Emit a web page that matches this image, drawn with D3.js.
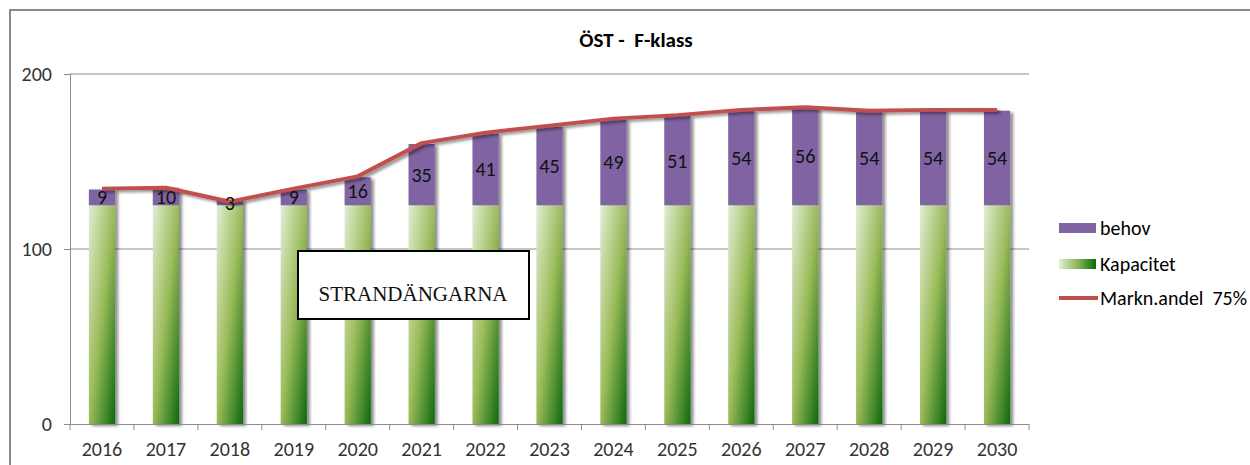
<!DOCTYPE html>
<html>
<head>
<meta charset="utf-8">
<script src="https://cdn.jsdelivr.net/npm/d3@7"></script>
<style>
  html, body { margin: 0; padding: 0; background: #fff; }
  svg { display: block; font-family: Carlito, Lato, "Open Sans", sans-serif; }
  text { white-space: pre; }
</style>
</head>
<body>
<div id="chart"></div>
<script>
const years = ["2016", "2017", "2018", "2019", "2020", "2021", "2022", "2023", "2024", "2025", "2026", "2027", "2028", "2029", "2030"];
const kapacitet = [125, 125, 125, 125, 125, 125, 125, 125, 125, 125, 125, 125, 125, 125, 125];
const behov = [9, 10, 3, 9, 16, 35, 41, 45, 49, 51, 54, 56, 54, 54, 54];
const marknandel = [134.5, 135, 127, 134.5, 141.5, 160.5, 166.5, 170.5, 174.5, 176.5, 179.5, 181, 179, 179.5, 179.5];
const yTicks = [0, 100, 200];
const title = "ÖST -  F-klass";
const note = "STRANDÄNGARNA";
const legendLabels = ["behov", "Kapacitet", "Markn.andel  75%"];

const W = 1250, H = 465;
const plot = { left: 70, right: 1029, top: 74, bottom: 424 };
const fontFam = "Carlito, Lato, 'Open Sans', sans-serif";

const svg = d3.select("#chart").append("svg")
  .attr("width", W)
  .attr("height", H);

const defs = svg.append("defs");
const grad = defs.append("linearGradient")
  .attr("id", "green")
  .attr("x1", 0).attr("y1", 0).attr("x2", 1).attr("y2", 1);
grad.append("stop").attr("offset", 0).attr("stop-color", "#e0eed4");
grad.append("stop").attr("offset", 0.5).attr("stop-color", "#9bbb59");
grad.append("stop").attr("offset", 1).attr("stop-color", "#0a6a0e");

const legGrad = defs.append("linearGradient")
  .attr("id", "greenLeg")
  .attr("x1", 0).attr("y1", 0).attr("x2", 1).attr("y2", 0);
legGrad.append("stop").attr("offset", 0).attr("stop-color", "#e0eed4");
legGrad.append("stop").attr("offset", 0.5).attr("stop-color", "#8fb556");
legGrad.append("stop").attr("offset", 1).attr("stop-color", "#0a6a0e");

const shadow = defs.append("filter")
  .attr("id", "shadow")
  .attr("x", "-50%").attr("y", "-10%").attr("width", "200%").attr("height", "120%");
shadow.append("feDropShadow")
  .attr("dx", 3).attr("dy", 2).attr("stdDeviation", 1.8)
  .attr("flood-color", "#000").attr("flood-opacity", 0.45);

// outer frame
svg.append("rect")
  .attr("x", 10).attr("y", 10)
  .attr("width", W).attr("height", H)
  .attr("fill", "none")
  .attr("stroke", "#898989")
  .attr("stroke-width", 2);

svg.append("text")
  .attr("x", 636).attr("y", 47)
  .attr("text-anchor", "middle")
  .attr("font-size", 21)
  .attr("font-weight", "bold")
  .attr("fill", "#000")
  .text(title);

const x = d3.scaleBand()
  .domain(years)
  .range([plot.left, plot.right])
  .paddingInner(0.59)
  .paddingOuter(0.295);

const y = d3.scaleLinear()
  .domain([0, 200])
  .range([plot.bottom, plot.top]);

// gridlines
svg.append("g")
  .selectAll("line")
  .data(yTicks.filter(d => d > 0))
  .join("line")
  .attr("x1", plot.left).attr("x2", plot.right)
  .attr("y1", d => y(d)).attr("y2", d => y(d))
  .attr("stroke", "#8c8c8c")
  .attr("stroke-width", 1);

// y axis
const yAxis = svg.append("g")
  .attr("transform", `translate(${plot.left},0)`)
  .call(d3.axisLeft(y).tickValues(yTicks).tickSize(6).tickPadding(12));
yAxis.select(".domain").attr("stroke", "#8c8c8c");
yAxis.selectAll(".tick line").attr("stroke", "#8c8c8c");
yAxis.selectAll("text")
  .attr("font-size", 20)
  .attr("fill", "#333")
  .attr("font-family", fontFam);

// bars
const rows = years.map((yr, i) => ({ year: yr, kap: kapacitet[i], beh: behov[i] }));

const barG = svg.append("g").attr("filter", "url(#shadow)");
barG.selectAll("rect.kap")
  .data(rows)
  .join("rect")
  .attr("class", "kap")
  .attr("x", d => x(d.year))
  .attr("width", x.bandwidth())
  .attr("y", d => y(d.kap))
  .attr("height", d => y(0) - y(d.kap))
  .attr("fill", "url(#green)");

barG.selectAll("rect.beh")
  .data(rows)
  .join("rect")
  .attr("class", "beh")
  .attr("x", d => x(d.year))
  .attr("width", x.bandwidth())
  .attr("y", d => y(d.kap + d.beh))
  .attr("height", d => y(d.kap) - y(d.kap + d.beh))
  .attr("fill", "#8064a2");

// x axis
const xAxis = svg.append("g")
  .attr("transform", `translate(0,${plot.bottom})`)
  .call(d3.axisBottom(x).tickSize(0).tickPadding(18));
xAxis.select(".domain").attr("stroke", "#8c8c8c");
xAxis.selectAll("text")
  .attr("font-size", 20)
  .attr("fill", "#333")
  .attr("font-family", fontFam);

const bounds = years.map(yr => x(yr) - x.step() * x.paddingInner() / 2).concat([plot.right]);
svg.append("g")
  .selectAll("line")
  .data(bounds)
  .join("line")
  .attr("x1", d => d).attr("x2", d => d)
  .attr("y1", plot.bottom).attr("y2", plot.bottom + 6)
  .attr("stroke", "#8c8c8c");

// market share line
const line = d3.line()
  .x((d, i) => x(years[i]) + x.bandwidth() / 2)
  .y(d => y(d));

svg.append("path")
  .datum(marknandel)
  .attr("d", line)
  .attr("fill", "none")
  .attr("stroke", "#c0504d")
  .attr("stroke-width", 4)
  .attr("stroke-linejoin", "round")
  .attr("filter", "url(#shadow)");

// data labels
svg.append("g")
  .selectAll("text")
  .data(rows)
  .join("text")
  .attr("x", d => x(d.year) + x.bandwidth() / 2)
  .attr("y", d => y(d.kap + d.beh / 2))
  .attr("dy", "0.35em")
  .attr("text-anchor", "middle")
  .attr("font-size", 20)
  .attr("fill", "#111")
  .text(d => d.beh);

// annotation box
const box = svg.append("g");
box.append("rect")
  .attr("x", 298).attr("y", 251)
  .attr("width", 231).attr("height", 68)
  .attr("fill", "#fff")
  .attr("stroke", "#000")
  .attr("stroke-width", 2);
box.append("text")
  .attr("x", 413).attr("y", 301)
  .attr("text-anchor", "middle")
  .attr("font-family", "'Liberation Serif', 'DejaVu Serif', serif")
  .attr("font-size", 21)
  .attr("fill", "#111")
  .text(note);

// legend
const leg = svg.append("g").attr("transform", "translate(1059,0)");
leg.append("rect")
  .attr("x", 0).attr("y", 223).attr("width", 37).attr("height", 10)
  .attr("fill", "#8064a2");
leg.append("rect")
  .attr("x", 0).attr("y", 259).attr("width", 37).attr("height", 10)
  .attr("fill", "url(#greenLeg)");
leg.append("line")
  .attr("x1", 0).attr("x2", 39).attr("y1", 298).attr("y2", 298)
  .attr("stroke", "#c0504d")
  .attr("stroke-width", 4);
leg.selectAll("text")
  .data(legendLabels)
  .join("text")
  .attr("x", 41)
  .attr("y", (d, i) => [228, 264, 298][i])
  .attr("dy", "0.35em")
  .attr("font-size", 20)
  .attr("fill", "#000")
  .text(d => d);
</script>
</body>
</html>
